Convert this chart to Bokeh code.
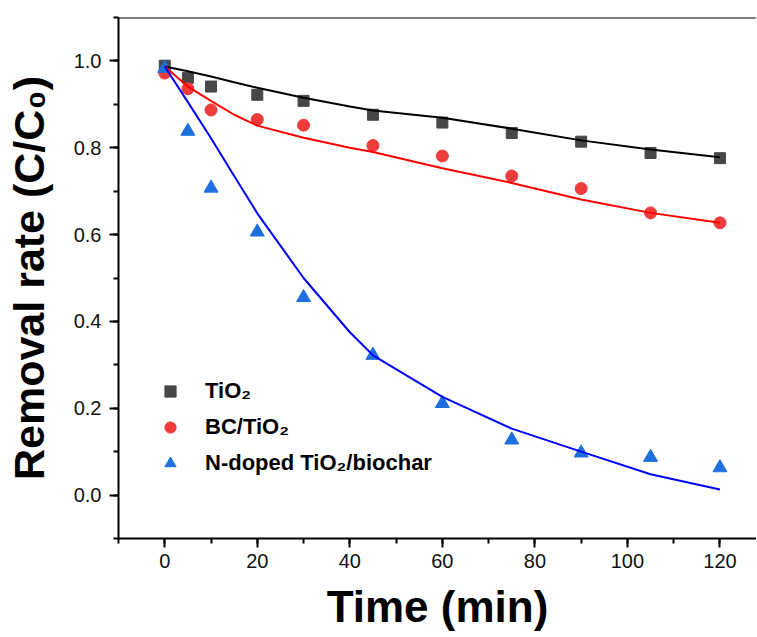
from bokeh.plotting import figure
from bokeh.models import Range1d, SingleIntervalTicker, PrintfTickFormatter, Span, Legend, LegendItem
from bokeh.embed import file_html
from bokeh.resources import INLINE

# ---- data ----
time_min = [0, 5, 10, 20, 30, 45, 60, 75, 90, 105, 120]
tio2 = [0.989, 0.961, 0.941, 0.922, 0.908, 0.876, 0.858, 0.834, 0.814, 0.788, 0.776]
bc_tio2 = [0.972, 0.936, 0.887, 0.865, 0.852, 0.805, 0.781, 0.735, 0.706, 0.650, 0.627]
n_doped = [0.983, 0.838, 0.707, 0.606, 0.455, 0.322, 0.211, 0.127, 0.097, 0.087, 0.063]

fit_time = [0, 5, 10, 15, 20, 30, 40, 45, 60, 75, 90, 105, 120]
fit_tio2 = [0.987, 0.976, 0.964, 0.951, 0.938, 0.915, 0.895, 0.886, 0.869, 0.844, 0.817, 0.796, 0.778]
fit_bc_tio2 = [0.987, 0.941, 0.908, 0.876, 0.851, 0.823, 0.800, 0.790, 0.753, 0.719, 0.681, 0.650, 0.627]
fit_n_doped = [0.987, 0.905, 0.822, 0.735, 0.649, 0.500, 0.375, 0.322, 0.226, 0.153, 0.100, 0.048, 0.013]

legend_labels = ["TiO\u2082", "BC/TiO\u2082", "N-doped TiO\u2082/biochar"]
x_title = "Time (min)"
y_title = "Removal rate (C/C\u2080)"

FONT = "Liberation Sans"

p = figure(width=756, height=636,
           x_range=Range1d(-10, 127.9), y_range=Range1d(-0.1, 1.1),
           output_backend="svg", toolbar_location=None,
           min_border_left=118, min_border_right=0, min_border_top=17, min_border_bottom=98)
p.outline_line_color = None
p.xgrid.visible = False
p.ygrid.visible = False
p.background_fill_color = "white"
p.border_fill_color = "white"

p.xaxis.ticker = SingleIntervalTicker(interval=20, num_minor_ticks=2)
p.yaxis.ticker = SingleIntervalTicker(interval=0.2, num_minor_ticks=2)
p.yaxis.formatter = PrintfTickFormatter(format="%.1f")

for ax in (p.xaxis[0], p.yaxis[0]):
    ax.axis_line_width = 2
    ax.axis_line_color = "black"
    ax.major_tick_line_width = 2
    ax.minor_tick_line_width = 2
    ax.major_tick_line_color = "black"
    ax.minor_tick_line_color = "black"
    ax.major_tick_in = 0
    ax.major_tick_out = 9
    ax.minor_tick_in = 0
    ax.minor_tick_out = 5
    ax.major_label_text_font = FONT
    ax.major_label_text_font_size = "20px"
    ax.major_label_text_color = "#111111"
    ax.axis_label_text_font = FONT
    ax.axis_label_text_font_style = "bold"
    ax.axis_label_text_color = "black"

p.xaxis.major_label_standoff = 6
p.yaxis.major_label_standoff = 8
p.xaxis.axis_label = x_title
p.xaxis.axis_label_text_font_size = "44px"
p.xaxis.axis_label_standoff = 11
p.yaxis.axis_label = y_title
p.yaxis.axis_label_text_font_size = "43px"
p.yaxis.axis_label_standoff = 18

p.add_layout(Span(location=1.1, dimension="width", line_color="black", line_width=2))

r_sq = p.scatter(time_min, tio2, marker="square", size=11, fill_color="#474747", line_color="#474747")
r_ci = p.scatter(time_min, bc_tio2, marker="circle", size=12, fill_color="#EE3B3B", line_color="#EE3B3B")
r_tr = p.scatter(time_min, n_doped, marker="triangle", size=14, fill_color="#1C6FDD", line_color="#1C6FDD")

p.line(fit_time, fit_tio2, line_color="black", line_width=2)
p.line(fit_time, fit_bc_tio2, line_color="#FF0000", line_width=2)
p.line(fit_time, fit_n_doped, line_color="#0000FF", line_width=2)

legend = Legend(items=[LegendItem(label=legend_labels[0], renderers=[r_sq]),
                       LegendItem(label=legend_labels[1], renderers=[r_ci]),
                       LegendItem(label=legend_labels[2], renderers=[r_tr])],
                location=(38, 61), orientation="vertical",
                glyph_width=28, glyph_height=28, label_standoff=21, spacing=8,
                padding=0, margin=0, border_line_color=None, background_fill_alpha=0,
                label_text_font=FONT, label_text_font_style="bold", label_text_font_size="22px",
                label_text_color="black")
p.add_layout(legend)

open("out.html", "w").write(file_html(p, INLINE))
